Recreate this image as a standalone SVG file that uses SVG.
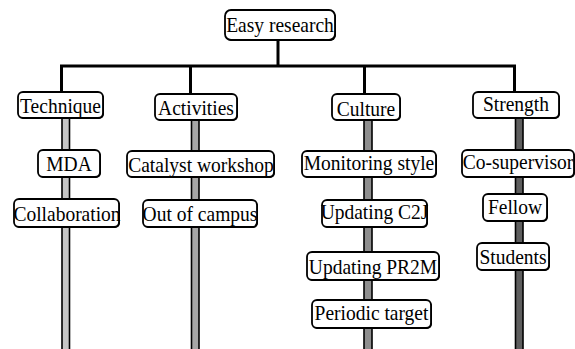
<svg xmlns="http://www.w3.org/2000/svg" width="575" height="349" viewBox="0 0 575 349">
  <style>
    .box { fill: #ffffff; stroke: #000000; stroke-width: 1.8; }
    .shadow { fill: #000000; }
    .lbl { font-family: 'Liberation Serif', 'Times New Roman', serif; font-size: 21.5px; fill: #000000; text-anchor: middle; }
    .link { stroke: #000000; stroke-width: 3; fill: none; }
    .stem { stroke: #000000; stroke-width: 1.6; }
  </style>
  <rect width="575" height="349" fill="#ffffff"/>

  <!-- connectors: root stem, bus bar, branch drops and coloured column stems -->
  <g id="connectors">
    <line class="link" x1="278" y1="40" x2="278" y2="66"/>
    <line class="link" x1="60" y1="66" x2="516" y2="66"/>
    <line class="link" x1="61.5" y1="66" x2="61.5" y2="93"/>
    <line class="link" x1="190.5" y1="66" x2="190.5" y2="95"/>
    <line class="link" x1="364.5" y1="66" x2="364.5" y2="95"/>
    <line class="link" x1="514.5" y1="66" x2="514.5" y2="93"/>
    <rect class="stem" x="62" y="118" width="7.5" height="240" fill="#c6c6c6"/>
    <rect class="stem" x="191.5" y="120" width="7.5" height="240" fill="#a6a6a6"/>
    <rect class="stem" x="364" y="120" width="8" height="240" fill="#8e8e8e"/>
    <rect class="stem" x="515.5" y="118" width="7.5" height="240" fill="#5e5e5e"/>
  </g>

  <!-- labels use a narrowed serif: taller glyphs at the same advance width -->
  <g id="easy-research">
    <rect class="shadow" x="226" y="11" width="110" height="30" rx="6"/>
    <rect class="box" x="225" y="10" width="110" height="30" rx="6"/>
    <text class="lbl" transform="translate(280 32) scale(0.907 1)">Easy research</text>
  </g>

  <g id="technique">
    <rect class="shadow" x="19" y="93" width="85" height="26" rx="5"/>
    <rect class="box" x="18" y="92" width="85" height="26" rx="5"/>
    <text class="lbl" transform="translate(60.5 113) scale(0.907 1)">Technique</text>
  </g>
  <g id="activities">
    <rect class="shadow" x="156" y="95" width="82" height="26" rx="5"/>
    <rect class="box" x="155" y="94" width="82" height="26" rx="5"/>
    <text class="lbl" transform="translate(196 114.5) scale(0.907 1)">Activities</text>
  </g>
  <g id="culture">
    <rect class="shadow" x="333" y="95" width="68" height="26" rx="5"/>
    <rect class="box" x="332" y="94" width="68" height="26" rx="5"/>
    <text class="lbl" transform="translate(366 116) scale(0.907 1)">Culture</text>
  </g>
  <g id="strength">
    <rect class="shadow" x="474" y="93" width="86" height="26" rx="5"/>
    <rect class="box" x="473" y="92" width="86" height="26" rx="5"/>
    <text class="lbl" transform="translate(516 110.5) scale(0.907 1)">Strength</text>
  </g>

  <g id="mda">
    <rect class="shadow" x="39" y="151" width="62" height="27" rx="5"/>
    <rect class="box" x="38" y="150" width="62" height="27" rx="5"/>
    <text class="lbl" transform="translate(69 171) scale(0.907 1)">MDA</text>
  </g>
  <g id="collaboration">
    <rect class="shadow" x="15" y="200" width="105" height="28" rx="5"/>
    <rect class="box" x="14" y="199" width="105" height="28" rx="5"/>
    <text class="lbl" transform="translate(67 220.5) scale(0.907 1)">Collaboration</text>
  </g>

  <g id="catalyst-workshop">
    <rect class="shadow" x="128" y="152" width="147" height="26" rx="5"/>
    <rect class="box" x="127" y="151" width="147" height="26" rx="5"/>
    <text class="lbl" transform="translate(201 172) scale(0.907 1)">Catalyst workshop</text>
  </g>
  <g id="out-of-campus">
    <rect class="shadow" x="144" y="201" width="114" height="27" rx="5"/>
    <rect class="box" x="143" y="200" width="114" height="27" rx="5"/>
    <text class="lbl" transform="translate(200 220.5) scale(0.907 1)">Out of campus</text>
  </g>

  <g id="monitoring-style">
    <rect class="shadow" x="303" y="152" width="134" height="26" rx="5"/>
    <rect class="box" x="302" y="151" width="134" height="26" rx="5"/>
    <text class="lbl" transform="translate(369 169.5) scale(0.907 1)">Monitoring style</text>
  </g>
  <g id="updating-c2j">
    <rect class="shadow" x="323" y="201" width="105" height="27" rx="5"/>
    <rect class="box" x="322" y="200" width="105" height="27" rx="5"/>
    <text class="lbl" transform="translate(374.5 219) scale(0.907 1)">Updating C2J</text>
  </g>
  <g id="updating-pr2m">
    <rect class="shadow" x="308" y="253" width="132" height="28" rx="5"/>
    <rect class="box" x="307" y="252" width="132" height="28" rx="5"/>
    <text class="lbl" transform="translate(373 273.5) scale(0.907 1)">Updating PR2M</text>
  </g>
  <g id="periodic-target">
    <rect class="shadow" x="313" y="301" width="119" height="28" rx="5"/>
    <rect class="box" x="312" y="300" width="119" height="28" rx="5"/>
    <text class="lbl" transform="translate(371.5 319.5) scale(0.907 1)">Periodic target</text>
  </g>

  <g id="co-supervisor">
    <rect class="shadow" x="463" y="151" width="112" height="27" rx="5"/>
    <rect class="box" x="462" y="150" width="112" height="27" rx="5"/>
    <text class="lbl" transform="translate(518 168.5) scale(0.907 1)">Co-supervisor</text>
  </g>
  <g id="fellow">
    <rect class="shadow" x="484" y="195" width="64" height="27" rx="5"/>
    <rect class="box" x="483" y="194" width="64" height="27" rx="5"/>
    <text class="lbl" transform="translate(515 213.5) scale(0.907 1)">Fellow</text>
  </g>
  <g id="students">
    <rect class="shadow" x="478" y="244" width="72" height="27" rx="5"/>
    <rect class="box" x="477" y="243" width="72" height="27" rx="5"/>
    <text class="lbl" transform="translate(513 263.5) scale(0.907 1)">Students</text>
  </g>
</svg>
